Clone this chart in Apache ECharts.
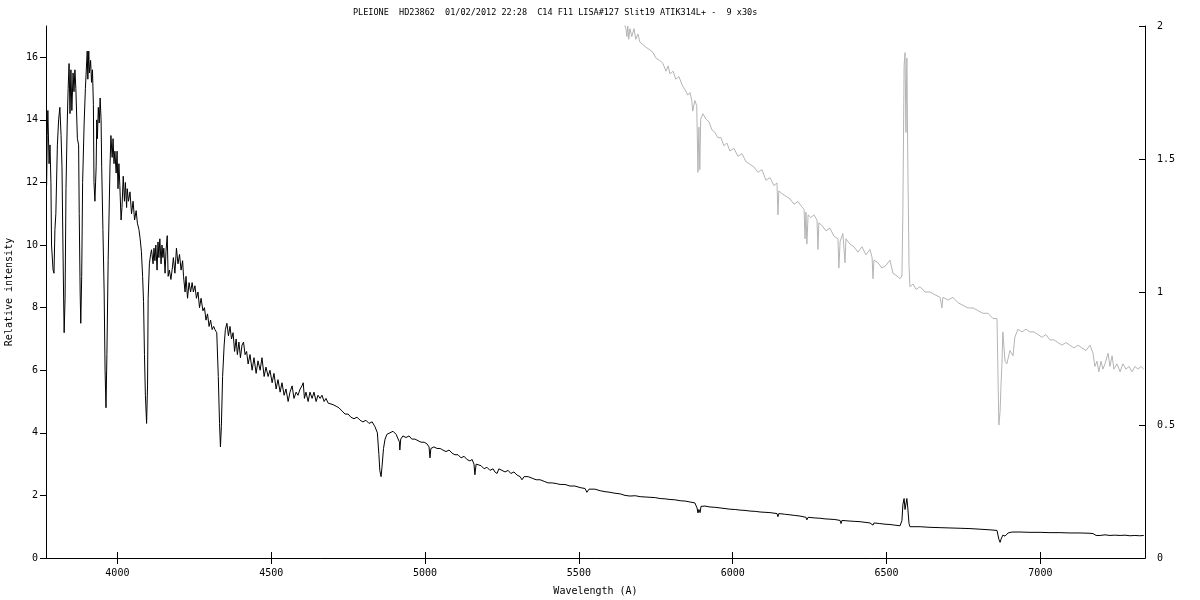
<!DOCTYPE html>
<html>
<head>
<meta charset="utf-8">
<script src="https://cdn.jsdelivr.net/npm/echarts@6/dist/echarts.min.js"></script>
<style>html,body{margin:0;padding:0;background:#fff}#c{width:1200px;height:600px}</style>
</head>
<body>
<div id="c"></div>
<script>
const titleText = 'PLEIONE  HD23862  01/02/2012 22:28  C14 F11 LISA#127 Slit19 ATIK314L+ -  9 x30s';
const xTicks = [4000, 4500, 5000, 5500, 6000, 6500, 7000];
const yLeftTicks = [0, 2, 4, 6, 8, 10, 12, 14, 16];
const yRightTicks = [0, 0.5, 1, 1.5, 2];
const xRange = [3768, 7340];
const yLeftRange = [0, 17];
const yRightRange = [0, 2];

// [wavelength (A), relative intensity] - left axis
const blackSpectrum = [
[3770,11.9],[3772,13.5],[3774,14.3],[3778,12.6],[3781,13.2],[3784,12.0],[3786,10.0],[3791,9.2],[3794,9.1],[3797,10.5],
[3800,11.0],[3805,13.2],[3809,14.0],[3813,14.4],[3817,13.5],[3820,12.5],[3822,10.8],[3825,8.5],[3827,7.2],[3830,8.3],
[3833,11.8],[3837,13.9],[3840,15.0],[3843,15.8],[3846,14.2],[3849,15.6],[3852,14.3],[3856,15.5],[3859,14.9],[3862,15.6],
[3865,15.0],[3870,13.4],[3874,13.2],[3876,11.0],[3879,8.5],[3881,7.5],[3884,9.0],[3887,12.0],[3892,13.9],[3896,15.0],
[3902,16.2],[3904,15.3],[3907,16.2],[3909,15.5],[3913,15.9],[3916,15.2],[3919,15.6],[3922,14.5],[3924,12.0],[3927,11.4],
[3931,12.5],[3933,14.0],[3935,13.4],[3938,14.4],[3941,13.9],[3944,14.7],[3947,14.0],[3949,12.5],[3953,10.5],[3957,8.5],
[3960,6.0],[3963,4.8],[3966,6.5],[3970,9.5],[3976,12.5],[3979,13.5],[3983,12.8],[3986,13.4],[3989,12.6],[3992,13.0],
[3996,12.3],[3999,13.0],[4002,11.8],[4005,12.6],[4008,11.9],[4012,10.8],[4015,11.2],[4019,12.2],[4023,11.4],[4026,12.0],
[4030,11.2],[4032,11.8],[4036,11.4],[4041,11.7],[4046,11.0],[4051,11.4],[4056,10.8],[4061,11.1],[4065,10.7],[4070,10.5],
[4074,10.2],[4078,9.8],[4082,9.0],[4085,8.2],[4088,6.5],[4091,5.2],[4095,4.3],[4098,5.5],[4100,8.3],[4104,9.4],
[4108,9.7],[4111,9.85],[4116,9.4],[4119,9.9],[4122,9.5],[4125,10.0],[4129,9.2],[4132,10.1],[4135,9.6],[4138,10.2],
[4142,9.4],[4145,10.0],[4148,9.6],[4151,9.9],[4155,9.1],[4158,9.8],[4162,10.3],[4165,9.0],[4169,9.2],[4174,8.9],
[4179,9.3],[4182,9.6],[4187,9.1],[4192,9.9],[4197,9.4],[4202,9.7],[4207,9.2],[4212,9.5],[4215,9.0],[4220,8.5],
[4223,9.0],[4228,8.3],[4233,8.8],[4238,8.5],[4243,8.8],[4247,8.5],[4252,8.7],[4257,8.3],[4262,8.5],[4267,8.0],
[4272,8.3],[4278,7.9],[4283,8.0],[4288,7.6],[4293,7.8],[4298,7.4],[4303,7.6],[4308,7.3],[4313,7.4],[4317,7.3],
[4323,7.2],[4328,5.8],[4332,4.3],[4335,3.55],[4338,4.2],[4342,5.8],[4347,6.8],[4351,7.3],[4356,7.5],[4361,7.1],
[4366,7.4],[4371,7.0],[4376,7.2],[4381,6.6],[4386,7.0],[4390,6.5],[4395,6.9],[4400,6.4],[4405,6.8],[4410,6.9],
[4415,6.5],[4420,6.6],[4425,6.2],[4431,6.5],[4438,6.0],[4444,6.4],[4451,5.9],[4457,6.3],[4464,6.0],[4470,6.4],
[4477,5.8],[4483,6.1],[4490,5.8],[4496,6.0],[4503,5.6],[4509,5.9],[4516,5.4],[4522,5.7],[4529,5.3],[4535,5.6],
[4542,5.2],[4548,5.4],[4555,5.0],[4561,5.3],[4568,5.5],[4574,5.1],[4581,5.3],[4587,5.2],[4594,5.4],[4600,5.5],
[4604,5.6],[4608,5.1],[4613,5.3],[4620,5.0],[4626,5.3],[4633,5.1],[4639,5.3],[4646,5.0],[4652,5.2],[4659,5.1],
[4665,5.2],[4672,5.0],[4678,5.1],[4685,4.95],[4691,5.0],[4701,4.9],[4711,4.85],[4720,4.8],[4730,4.7],[4740,4.6],
[4750,4.6],[4759,4.5],[4769,4.45],[4779,4.5],[4789,4.4],[4798,4.35],[4808,4.4],[4818,4.3],[4828,4.35],[4837,4.2],
[4845,4.0],[4850,3.3],[4853,2.8],[4857,2.6],[4860,2.9],[4865,3.5],[4870,3.8],[4876,3.95],[4886,4.0],[4896,4.05],
[4906,3.95],[4912,4.0],[4917,3.7],[4918,3.45],[4921,3.8],[4928,3.9],[4938,3.85],[4948,3.9],[4957,3.8],[4967,3.8],
[4977,3.75],[4987,3.7],[4997,3.7],[5006,3.65],[5013,3.55],[5016,3.2],[5019,3.5],[5029,3.55],[5039,3.5],[5049,3.5],
[5058,3.45],[5068,3.4],[5078,3.45],[5088,3.35],[5097,3.3],[5107,3.3],[5117,3.2],[5127,3.25],[5136,3.15],[5146,3.1],
[5153,3.15],[5159,3.0],[5162,2.66],[5166,3.0],[5172,3.0],[5182,2.95],[5192,2.85],[5201,2.9],[5211,2.8],[5221,2.85],
[5227,2.75],[5234,2.7],[5240,2.85],[5250,2.8],[5260,2.75],[5270,2.8],[5279,2.7],[5289,2.75],[5299,2.65],[5309,2.6],
[5315,2.5],[5322,2.6],[5335,2.6],[5348,2.55],[5361,2.5],[5374,2.5],[5387,2.45],[5400,2.4],[5413,2.4],[5426,2.38],
[5439,2.35],[5455,2.35],[5471,2.3],[5487,2.3],[5504,2.25],[5520,2.22],[5526,2.1],[5533,2.2],[5552,2.2],[5569,2.15],
[5585,2.12],[5601,2.1],[5617,2.07],[5634,2.05],[5650,2.0],[5666,1.98],[5683,1.99],[5699,1.96],[5715,1.95],[5731,1.94],
[5748,1.93],[5764,1.9],[5780,1.89],[5796,1.87],[5812,1.86],[5829,1.83],[5845,1.82],[5861,1.79],[5877,1.76],[5884,1.6],
[5887,1.44],[5890,1.55],[5894,1.45],[5897,1.65],[5910,1.66],[5926,1.63],[5942,1.62],[5959,1.6],[5975,1.58],[5991,1.56],
[6008,1.55],[6024,1.53],[6040,1.52],[6056,1.5],[6073,1.49],[6089,1.47],[6105,1.46],[6121,1.45],[6144,1.42],[6147,1.32],
[6150,1.42],[6168,1.4],[6186,1.38],[6202,1.36],[6219,1.34],[6238,1.3],[6241,1.22],[6245,1.3],[6267,1.28],[6284,1.27],
[6300,1.25],[6316,1.24],[6332,1.23],[6349,1.2],[6352,1.1],[6355,1.2],[6368,1.19],[6381,1.18],[6397,1.17],[6414,1.16],
[6430,1.14],[6446,1.12],[6456,1.05],[6459,1.12],[6478,1.1],[6495,1.08],[6511,1.07],[6527,1.05],[6544,1.03],[6550,1.2],
[6553,1.7],[6557,1.9],[6560,1.55],[6563,1.5],[6566,1.9],[6569,1.6],[6573,1.1],[6576,1.0],[6609,1.0],[6641,0.98],
[6674,0.97],[6706,0.96],[6739,0.95],[6771,0.94],[6804,0.92],[6836,0.9],[6859,0.88],[6865,0.6],[6869,0.5],[6872,0.6],
[6878,0.73],[6885,0.7],[6895,0.8],[6908,0.83],[6934,0.83],[6966,0.82],[6999,0.82],[7031,0.81],[7064,0.81],[7096,0.8],
[7129,0.8],[7161,0.79],[7171,0.78],[7181,0.72],[7194,0.72],[7210,0.74],[7226,0.72],[7242,0.73],[7259,0.72],[7275,0.73],
[7291,0.71],[7307,0.72],[7323,0.71],[7336,0.72]
];

// [wavelength (A), intensity] - right axis
const greySpectrum = [
[5620,2.12],[5634,2.06],[5640,2.03],[5653,1.99],[5656,1.96],[5659,2.0],[5662,1.95],[5666,1.99],[5672,1.96],[5679,1.99],
[5685,1.95],[5692,1.97],[5698,1.94],[5708,1.93],[5718,1.92],[5731,1.91],[5741,1.9],[5750,1.88],[5763,1.87],[5773,1.86],
[5783,1.83],[5790,1.85],[5796,1.82],[5806,1.83],[5815,1.8],[5825,1.81],[5835,1.78],[5845,1.76],[5854,1.74],[5861,1.75],
[5867,1.72],[5870,1.68],[5877,1.72],[5883,1.7],[5887,1.45],[5890,1.62],[5893,1.46],[5896,1.65],[5903,1.67],[5913,1.65],
[5923,1.64],[5932,1.61],[5942,1.6],[5952,1.58],[5962,1.58],[5971,1.55],[5981,1.56],[5991,1.53],[6004,1.54],[6017,1.51],
[6030,1.52],[6043,1.49],[6056,1.48],[6069,1.47],[6082,1.45],[6095,1.46],[6108,1.42],[6121,1.43],[6134,1.4],[6144,1.41],
[6147,1.29],[6150,1.38],[6160,1.37],[6173,1.36],[6186,1.35],[6199,1.33],[6212,1.34],[6225,1.32],[6232,1.31],[6235,1.2],
[6238,1.3],[6241,1.18],[6245,1.29],[6254,1.28],[6264,1.29],[6274,1.27],[6277,1.16],[6280,1.26],[6290,1.25],[6303,1.23],
[6316,1.24],[6329,1.21],[6342,1.2],[6345,1.09],[6349,1.19],[6358,1.22],[6365,1.11],[6368,1.2],[6381,1.18],[6394,1.17],
[6407,1.15],[6420,1.17],[6433,1.14],[6446,1.16],[6453,1.13],[6456,1.05],[6459,1.12],[6472,1.11],[6485,1.09],[6498,1.1],
[6511,1.12],[6521,1.07],[6534,1.06],[6544,1.05],[6550,1.06],[6553,1.3],[6557,1.85],[6560,1.9],[6563,1.6],[6566,1.88],
[6569,1.5],[6573,1.1],[6576,1.02],[6586,1.03],[6596,1.01],[6609,1.02],[6625,1.0],[6641,1.0],[6657,0.99],[6674,0.98],
[6680,0.94],[6683,0.98],[6700,0.97],[6716,0.98],[6732,0.96],[6748,0.95],[6765,0.94],[6781,0.94],[6797,0.93],[6813,0.92],
[6830,0.92],[6846,0.9],[6859,0.9],[6862,0.7],[6865,0.5],[6869,0.55],[6872,0.65],[6875,0.73],[6878,0.85],[6885,0.74],
[6891,0.73],[6901,0.78],[6911,0.76],[6917,0.83],[6927,0.86],[6940,0.85],[6953,0.86],[6966,0.85],[6979,0.85],[6992,0.84],
[7005,0.83],[7018,0.84],[7031,0.82],[7044,0.82],[7057,0.81],[7070,0.8],[7083,0.81],[7096,0.8],[7109,0.79],[7122,0.8],
[7135,0.79],[7148,0.78],[7161,0.8],[7171,0.77],[7177,0.72],[7184,0.74],[7190,0.7],[7197,0.74],[7203,0.71],[7210,0.73],
[7220,0.77],[7226,0.72],[7233,0.76],[7239,0.71],[7249,0.73],[7259,0.7],[7268,0.73],[7278,0.71],[7288,0.72],[7298,0.7],
[7307,0.72],[7317,0.71],[7327,0.72],[7336,0.71]
];

const FONT = 'DejaVu Sans Mono';
const chart = echarts.init(document.getElementById('c'), null, {renderer: 'canvas'});
const lineAxis = {show: true, lineStyle: {color: '#000', width: 1}};
const plain = v => String(v);
chart.setOption({
  animation: false,
  backgroundColor: '#fff',
  title: {
    text: titleText, left: 348, top: 3,
    textStyle: {fontFamily: FONT, fontSize: 8.5, fontWeight: 'normal', color: '#000'}
  },
  grid: {left: 46, right: 55, top: 26, bottom: 42, containLabel: false, outerBoundsMode: 'none'},
  xAxis: [{
    type: 'value', position: 'bottom', min: xRange[0], max: xRange[1],
    name: 'Wavelength (A)', nameLocation: 'middle', nameGap: 28,
    nameTextStyle: {fontFamily: FONT, fontSize: 10, color: '#000'},
    axisLine: lineAxis,
    axisTick: {show: true, inside: true, length: 6, customValues: xTicks, lineStyle: {color: '#000'}},
    axisLabel: {show: true, customValues: xTicks, formatter: plain, margin: 10, fontFamily: FONT, fontSize: 10, color: '#000'},
    splitLine: {show: false}
  }, {
    type: 'value', position: 'top', min: xRange[0], max: xRange[1],
    axisLine: lineAxis,
    axisTick: {show: true, inside: true, length: 6, customValues: xTicks, lineStyle: {color: '#000'}},
    axisLabel: {show: false},
    splitLine: {show: false}
  }],
  yAxis: [{
    type: 'value', position: 'left', min: yLeftRange[0], max: yLeftRange[1],
    name: 'Relative intensity', nameLocation: 'middle', nameGap: 32, nameRotate: 90,
    nameTextStyle: {fontFamily: FONT, fontSize: 10, color: '#000'},
    axisLine: lineAxis,
    axisTick: {show: true, inside: false, length: 6, customValues: yLeftTicks, lineStyle: {color: '#000'}},
    axisLabel: {show: true, customValues: yLeftTicks, formatter: plain, margin: 8, fontFamily: FONT, fontSize: 10, color: '#000'},
    splitLine: {show: false}
  }, {
    type: 'value', position: 'right', min: yRightRange[0], max: yRightRange[1], interval: 0.5,
    axisLine: lineAxis,
    axisTick: {show: true, inside: true, length: 6, lineStyle: {color: '#000'}},
    axisLabel: {show: true, formatter: plain, margin: 12, fontFamily: FONT, fontSize: 10, color: '#000'},
    splitLine: {show: false}
  }],
  series: [{
    type: 'line', name: 'grey', xAxisIndex: 0, yAxisIndex: 1, data: greySpectrum,
    showSymbol: false, symbol: 'none', clip: true,
    lineStyle: {color: '#b4b4b4', width: 1}, z: 2
  }, {
    type: 'line', name: 'black', xAxisIndex: 0, yAxisIndex: 0, data: blackSpectrum,
    showSymbol: false, symbol: 'none', clip: true,
    lineStyle: {color: '#000', width: 1}, z: 3
  }]
});
</script>
</body>
</html>
